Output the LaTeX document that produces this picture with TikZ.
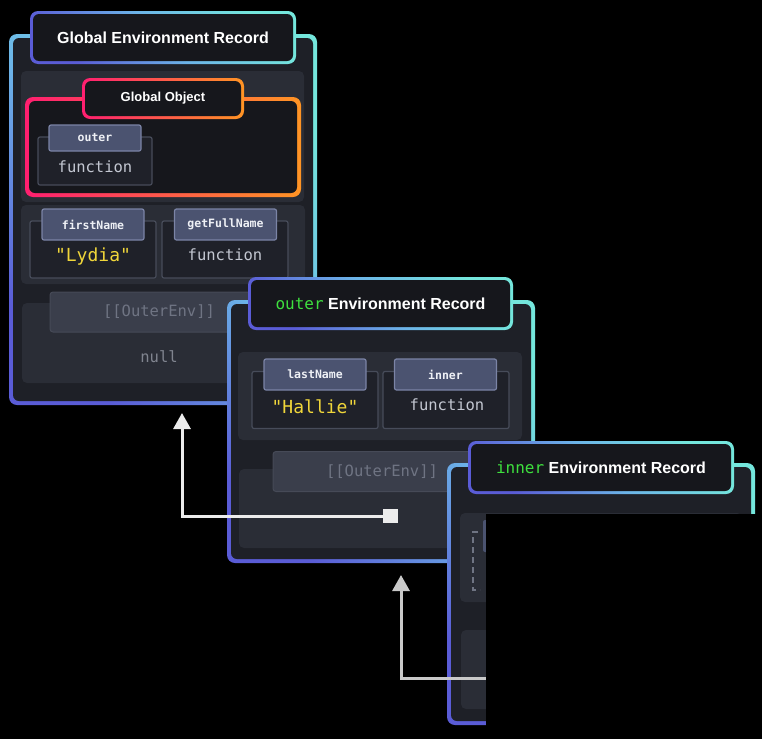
\documentclass[tikz,border=0pt]{standalone}
\usepackage{fontspec}
\setmainfont{Liberation Sans}
\setmonofont{DejaVu Sans Mono}
\usepackage{tikz}
\usetikzlibrary{calc,arrows.meta}

\definecolor{gradA}{HTML}{5A5CD6}
\definecolor{gradM}{HTML}{6CB4E8}
\definecolor{gradB}{HTML}{74E6DC}
\definecolor{gopink}{HTML}{FF1F70}
\definecolor{goorange}{HTML}{FF9424}
\definecolor{cardbg}{HTML}{1E2027}
\definecolor{panelbg}{HTML}{2A2D36}
\definecolor{titlebg}{HTML}{16171C}
\definecolor{itembg}{HTML}{1F2129}
\definecolor{itemline}{HTML}{474C5A}
\definecolor{tagbg}{HTML}{4B5370}
\definecolor{tagline}{HTML}{7B84A6}
\definecolor{tagtext}{HTML}{EEF0F5}
\definecolor{functext}{HTML}{C3C7D1}
\definecolor{strtext}{HTML}{F0D63A}
\definecolor{envbg}{HTML}{3A3E4B}
\definecolor{envline}{HTML}{464A57}
\definecolor{envtext}{HTML}{6F7483}
\definecolor{nulltext}{HTML}{80848F}
\definecolor{codegreen}{HTML}{3EE03E}
\definecolor{linkA}{HTML}{ECECEC}
\definecolor{linkB}{HTML}{C9C9C9}

\newcommand\recfont{\fontsize{16}{19}\selectfont\bfseries}
\newcommand\objfont{\fontsize{13}{15}\selectfont\bfseries}
\newcommand\keyfont{\fontsize{11.5}{14}\selectfont\ttfamily\bfseries}
\newcommand\valfont{\fontsize{15.5}{18}\selectfont\ttfamily}
\newcommand\strfont{\fontsize{18}{20}\selectfont\ttfamily}

% border box: [inset]{x1}{y1}{x2}{y2}{edge style}{inner fill}
\newcommand\gradbox[7][4]{%
  \shade[rounded corners=8pt, #6] (#2,#3) rectangle (#4,#5);
  \fill[#7, rounded corners=6pt] ($(#2,#3)+(#1,#1)$) rectangle ($(#4,#5)+(-#1,-#1)$);}

\tikzset{
  cardedge/.style={bottom color=gradA, top color=gradB, middle color=gradM, shading angle=-45},
  objedge/.style={left color=gopink, right color=goorange},
  rectitle/.style={text=white, font=\recfont, inner sep=0pt},
  objtitle/.style={text=white, font=\objfont, inner sep=0pt},
  itembox/.style={draw=itemline, fill=itembg, line width=1.2pt, rounded corners=2pt,
    minimum width=126pt, minimum height=57pt, inner sep=0pt},
  keybox/.style={draw=tagline, fill=tagbg, line width=1.2pt, rounded corners=2pt,
    minimum width=102pt, minimum height=31pt, inner sep=0pt, text=tagtext, font=\keyfont},
  valtext/.style={text=functext, font=\valfont, inner sep=0pt},
  strtext/.style={text=strtext, font=\strfont, inner sep=0pt},
  envkey/.style={draw=envline, fill=envbg, line width=1pt, rounded corners=3pt,
    minimum width=218pt, minimum height=40pt, inner sep=0pt, text=envtext, font=\valfont},
  nulltext/.style={text=nulltext, font=\valfont, inner sep=0pt},
  panel/.style={fill=panelbg, rounded corners=5pt},
  link/.style={line width=3pt, -{Triangle[width=17pt,length=16pt]}},
  ptr/.style={fill=linkA, minimum width=15pt, minimum height=14pt, inner sep=0pt}
}

\begin{document}
\begin{tikzpicture}[x=1pt,y=-1pt]
\useasboundingbox (0,0) rectangle (762,739);
\fill[black] (0,0) rectangle (762,739);

%global record
\gradbox{9}{34}{317}{405}{cardedge}{cardbg}
\fill[panel] (21,71) rectangle (304,202);
\fill[panel] (21,205) rectangle (305,284);
\fill[panel] (22,303) rectangle (305,383);
\gradbox[3]{30}{11}{296}{64}{cardedge}{titlebg}
\node[rectitle] (gtitle) at (163,37.5) {Global Environment Record};

\gradbox{25}{97}{301}{197}{objedge}{titlebg}
\gradbox[3]{82}{78}{244}{119}{objedge}{titlebg}
\node[objtitle] (gobj) at (163,98.5) {Global Object};

\node[itembox, minimum width=114pt, minimum height=48pt] (outerbox) at (95,161) {};
\node[keybox, minimum width=92pt, minimum height=26pt] (outerkey) at (95,138) {outer};
\node[valtext] (outerval) at (95,167) {function};

\node[itembox] (firstbox) at (93,249.5) {};
\node[keybox] (firstkey) at (93,224.5) {firstName};
\node[strtext] (firstval) at (93,257) {"Lydia"};

\node[itembox] (fullbox) at (225,249.5) {};
\node[keybox] (fullkey) at (225.5,224.5) {getFullName};
\node[valtext] (fullval) at (225,255) {function};

\node[envkey] (genv) at (159,312) {[[OuterEnv]]};
\node[nulltext] (gnull) at (159,357) {null};
\coordinate (gbottom) at (182,413);

%outer record
\gradbox{227}{300}{535}{563}{cardedge}{cardbg}
\fill[panel] (238,352) rectangle (522,440);
\fill[panel] (239,469) rectangle (522,548);
\gradbox[3]{248}{277}{513}{330}{cardedge}{titlebg}
\node[rectitle] (otitle) at (380.5,303.5) {\textcolor{codegreen}{\mdseries\ttfamily outer} Environment Record};

\node[itembox] (lastbox) at (315,400) {};
\node[keybox] (lastkey) at (315,374.5) {lastName};
\node[strtext] (lastval) at (315,407) {"Hallie"};

\node[itembox] (innerbox) at (446,400) {};
\node[keybox] (innerkey) at (445.5,374.5) {inner};
\node[valtext] (innerval) at (447,405) {function};

\node[envkey] (oenv) at (382,471.5) {[[OuterEnv]]};
\node[ptr] (optr) at (390,516) {};
\coordinate (obottom) at (401,575);

%inner record
\gradbox{447}{463}{755}{725}{cardedge}{cardbg}
\fill[panel] (460,513) rectangle (742,602);
\fill[panel] (461,630) rectangle (742,709);
\draw[envtext, line width=1.2pt, dash pattern=on 6pt off 4pt] (478,532) -- (473,532) -- (473,590) -- (480,590);
\fill[tagbg, rounded corners=2pt] (483,520) rectangle (560,552);
\gradbox[3]{468}{441}{734}{494}{cardedge}{titlebg}
\node[rectitle] (ititle) at (601,467.5) {\textcolor{codegreen}{\mdseries\ttfamily inner} Environment Record};
\coordinate (iptr) at (520,678);

%links
\draw[link, linkA] (optr.center) -| (gbottom);
\draw[link, linkB] (iptr) -| (obottom);

%cover
\fill[black] (486,514) rectangle (762,739);
\end{tikzpicture}
\end{document}
